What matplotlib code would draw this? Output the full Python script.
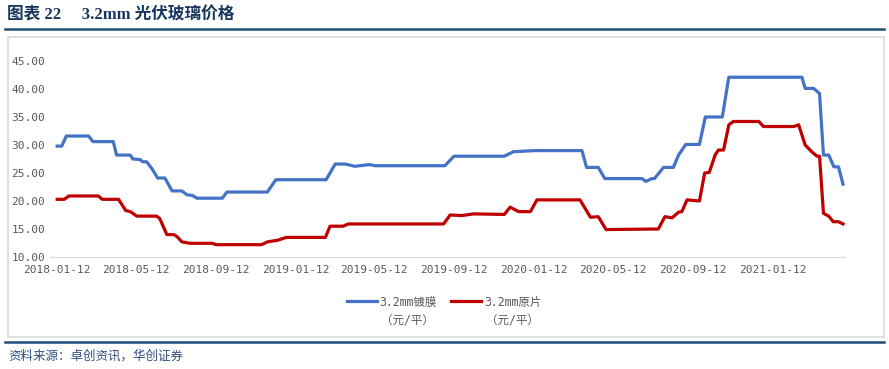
import pandas as pd
import matplotlib
matplotlib.use("Agg")
import matplotlib.pyplot as plt
import matplotlib.dates as mdates
from matplotlib.patches import Rectangle
from matplotlib.lines import Line2D

plt.rcParams['font.family'] = ['DejaVu Sans Mono', 'Noto Sans CJK SC']

# 3.2mm coated glass (yuan / m2), breakpoints
coated_dates = ['2018-01-12', '2018-01-19', '2018-01-26', '2018-03-01', '2018-03-08',
                '2018-04-08', '2018-04-13', '2018-05-04', '2018-05-08', '2018-05-19',
                '2018-05-23', '2018-05-29', '2018-06-06', '2018-06-15', '2018-06-26',
                '2018-07-07', '2018-07-22', '2018-07-30', '2018-08-07', '2018-08-14',
                '2018-09-22', '2018-09-29', '2018-11-30', '2018-12-13', '2019-02-28',
                '2019-03-14', '2019-03-29', '2019-04-13', '2019-05-06', '2019-05-14',
                '2019-08-29', '2019-09-12', '2019-11-28', '2019-12-12', '2020-01-14',
                '2020-03-26', '2020-04-02', '2020-04-20', '2020-04-30', '2020-06-26',
                '2020-07-02', '2020-07-11', '2020-07-15', '2020-07-29', '2020-08-13',
                '2020-08-21', '2020-09-01', '2020-09-22', '2020-10-01', '2020-10-27',
                '2020-11-06', '2021-02-26', '2021-03-03', '2021-03-16', '2021-03-25',
                '2021-03-31', '2021-04-08', '2021-04-16', '2021-04-23', '2021-04-30']
coated_price = [29.8, 29.8, 31.6, 31.6, 30.6,
                30.6, 28.2, 28.2, 27.5, 27.4,
                27.0, 27.0, 25.8, 24.1, 24.1,
                21.8, 21.8, 21.1, 21.0, 20.5,
                20.5, 21.6, 21.6, 23.8, 23.8,
                26.6, 26.6, 26.2, 26.5, 26.3,
                26.3, 28.0, 28.0, 28.8, 29.0,
                29.0, 26.0, 26.0, 24.0, 24.0,
                23.5, 24.0, 24.0, 26.0, 26.0,
                28.2, 30.1, 30.1, 35.0, 35.0,
                42.1, 42.1, 40.1, 40.1, 39.2,
                28.2, 28.2, 26.1, 26.1, 23.0]

# 3.2mm raw glass (yuan / m2)
raw_dates = ['2018-01-12', '2018-01-23', '2018-01-30', '2018-03-16', '2018-03-22',
             '2018-04-16', '2018-04-27', '2018-05-04', '2018-05-14', '2018-06-13',
             '2018-06-18', '2018-06-29', '2018-07-10', '2018-07-15', '2018-07-22',
             '2018-08-03', '2018-09-06', '2018-09-13', '2018-11-21', '2018-11-30',
             '2018-12-16', '2018-12-29', '2019-02-27', '2019-03-06', '2019-03-26',
             '2019-04-03', '2019-08-27', '2019-09-06', '2019-09-24', '2019-10-12',
             '2019-11-28', '2019-12-07', '2019-12-20', '2020-01-07', '2020-01-17',
             '2020-03-23', '2020-04-08', '2020-04-20', '2020-05-02', '2020-07-21',
             '2020-07-31', '2020-08-11', '2020-08-21', '2020-08-26', '2020-09-03',
             '2020-09-22', '2020-09-30', '2020-10-07', '2020-10-16', '2020-10-21',
             '2020-10-29', '2020-11-06', '2020-11-13', '2020-12-22', '2020-12-29',
             '2021-02-13', '2021-02-21', '2021-03-03', '2021-03-13', '2021-03-21',
             '2021-03-25', '2021-03-31', '2021-04-08', '2021-04-15', '2021-04-23',
             '2021-04-30']
raw_price = [20.3, 20.3, 20.9, 20.9, 20.3,
             20.3, 18.3, 18.1, 17.3, 17.3,
             16.9, 14.0, 14.0, 13.6, 12.7,
             12.45, 12.45, 12.2, 12.2, 12.7,
             13.0, 13.5, 13.5, 15.5, 15.5,
             15.9, 15.9, 17.5, 17.4, 17.7,
             17.6, 18.9, 18.1, 18.1, 20.2,
             20.2, 17.1, 17.2, 14.9, 15.0,
             17.2, 17.0, 18.0, 18.1, 20.2,
             20.0, 25.0, 25.1, 28.2, 29.1,
             29.1, 33.6, 34.2, 34.2, 33.3,
             33.3, 33.6, 30.0, 28.8, 28.0,
             28.0, 17.8, 17.3, 16.3, 16.3,
             15.9]

series_names = ['3.2mm镀膜', '3.2mm原片']
unit = '（元/平）'
tick_dates = ['2018-01-12', '2018-05-12', '2018-09-12', '2019-01-12', '2019-05-12',
              '2019-09-12', '2020-01-12', '2020-05-12', '2020-09-12', '2021-01-12']
y_ticks = [10, 15, 20, 25, 30, 35, 40, 45]

W, H = 889, 369
fig = plt.figure(figsize=(W / 100, H / 100), dpi=100)

# frame, title, rules and source
fig.patches.append(Rectangle((8 / W, 1 - 337 / H), 876 / W, 300 / H, transform=fig.transFigure,
                             fill=False, edgecolor='#d9d9d9', linewidth=1.2))
fig.add_artist(Line2D([5 / W, 884 / W], [1 - 29 / H] * 2, color='#1f4e79', linewidth=1.8))
fig.add_artist(Line2D([5 / W, 884 / W], [1 - 342 / H] * 2, color='#1f4e79', linewidth=1.8))
fig.text(7 / W, 1 - 15 / H, '图表 22     3.2mm 光伏玻璃价格', fontsize=12, fontweight='bold',
         color='#17375e', va='center', family=['Liberation Serif', 'Noto Sans CJK SC'])
fig.text(8 / W, 1 - 356 / H, '资料来源：卓创资讯，华创证券', fontsize=9, style='italic',
         color='#2f4f7f', va='center', family=['Noto Sans CJK SC'])

ax = fig.add_axes([50 / W, 1 - 257 / H, 795 / W, 196 / H])
ax.plot(pd.to_datetime(coated_dates), coated_price, color='#4472c4', linewidth=2.3,
        label=series_names[0])
ax.plot(pd.to_datetime(raw_dates), raw_price, color='#c00000', linewidth=2.3,
        label=series_names[1])

ax.set_ylim(10, 45)
ax.set_xlim(pd.Timestamp('2018-01-01'), pd.Timestamp('2021-05-03'))
ax.set_yticks(y_ticks)
ax.set_yticklabels([f'{v:.2f}' for v in y_ticks])
ax.set_xticks(pd.to_datetime(tick_dates))
ax.xaxis.set_major_formatter(mdates.DateFormatter('%Y-%m-%d'))
ax.tick_params(axis='both', length=0, labelsize=8, labelcolor='#595959')
ax.tick_params(axis='x', pad=6)
for s in ['top', 'right', 'left']:
    ax.spines[s].set_visible(False)
ax.spines['bottom'].set_color('#d9d9d9')

leg = ax.legend(loc='center', bbox_to_anchor=(444 / W, 1 - 302 / H), bbox_transform=fig.transFigure,
                ncol=2, frameon=False, fontsize=8.3, handlelength=2.6, columnspacing=1.3,
                handletextpad=0.2)
for t in leg.get_texts():
    t.set_color('#595959')

# unit on a second line under each legend entry
fig.canvas.draw()
inv = fig.transFigure.inverted()
for t in leg.get_texts():
    bb = t.get_window_extent()
    x0, y0 = inv.transform((bb.x0, bb.y0))
    fig.text(x0 + 2 / W, y0 - 6 / H, unit, fontsize=8.3, color='#595959', va='top', ha='left')

fig.savefig('out.png', dpi=100)
